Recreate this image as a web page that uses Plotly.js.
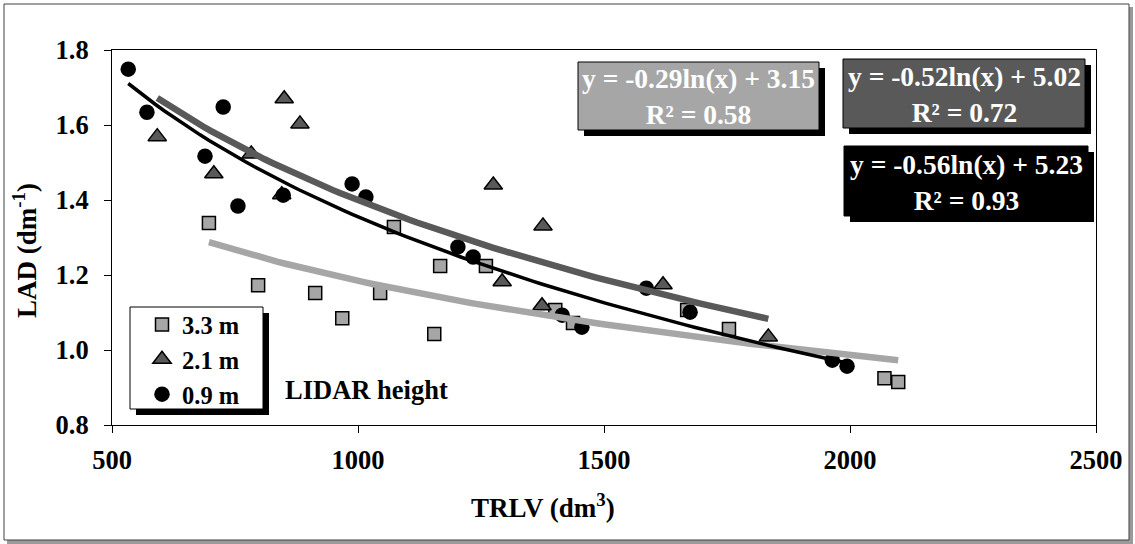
<!DOCTYPE html>
<html>
<head>
<meta charset="utf-8">
<script src="https://cdn.plot.ly/plotly-3.0.1.min.js"></script>
<style>
  html, body { margin: 0; padding: 0; background: #ffffff; }
  #chart { width: 1135px; height: 544px; }
</style>
</head>
<body>
<div id="chart"></div>
<script>
// ---- data ----
const seriesNames = ["3.3 m", "2.1 m", "0.9 m"];

const trlv33 = [697, 797, 913, 968, 1045, 1073, 1155, 1167, 1260, 1401, 1437, 1669, 1754, 2070, 2098];
const lad33  = [1.339, 1.173, 1.152, 1.085, 1.152, 1.328, 1.043, 1.224, 1.224, 1.107, 1.072, 1.107, 1.056, 0.925, 0.915];

const trlv21 = [592, 707, 783, 845, 850, 882, 1275, 1293, 1374, 1376, 1620, 1834];
const lad21  = [1.569, 1.470, 1.523, 1.414, 1.670, 1.603, 1.440, 1.182, 1.118, 1.331, 1.174, 1.035];

const trlv09 = [533, 571, 689, 726, 756, 848, 988, 1016, 1203, 1234, 1415, 1455, 1586, 1675, 1964, 1994];
const lad09  = [1.749, 1.634, 1.517, 1.648, 1.384, 1.413, 1.443, 1.408, 1.275, 1.248, 1.093, 1.061, 1.165, 1.101, 0.973, 0.957];

// logarithmic trend lines  y = a ln(x) + b  (as drawn in the picture)
const trendA = [-0.286, -0.521, -0.565];
const trendB = [3.160, 4.998, 5.258];

const equations = ["y = -0.29ln(x) + 3.15<br>R² = 0.58",
                   "y = -0.52ln(x) + 5.02<br>R² = 0.72",
                   "y = -0.56ln(x) + 5.23<br>R² = 0.93"];

const xTicks = [500, 1000, 1500, 2000, 2500];
const yTicks = [0.8, 1.0, 1.2, 1.4, 1.6, 1.8];

// ---- styling ----
const FONT = "Liberation Serif, Times New Roman, serif";
const colLight = "#a6a6a6", colDark = "#595959", colBlack = "#000000";

// plot area in pixels
const PL = 112, PR = 1096, PT = 50, PB = 425;
const W = 1135, H = 544;
const px = v => (v - PL) / (PR - PL);
const py = v => (PB - v) / (PB - PT);

function trend(xs, a, b) {
  const lo = Math.min(...xs), hi = Math.max(...xs);
  const X = [], Y = [];
  const n = 80;
  for (let i = 0; i <= n; i++) {
    const x = lo + (hi - lo) * i / n;
    X.push(x); Y.push(a * Math.log(x) + b);
  }
  return {X, Y};
}

const tL = trend(trlv33, trendA[0], trendB[0]);
const tD = trend(trlv21, trendA[1], trendB[1]);
const tB = trend(trlv09, trendA[2], trendB[2]);

const traces = [
  {x: trlv33, y: lad33, name: seriesNames[0], type: "scatter", mode: "markers",
   marker: {symbol: "square", size: 13, color: colLight, line: {color: "#000", width: 1.5}}},
  {x: trlv21, y: lad21, name: seriesNames[1], type: "scatter", mode: "markers",
   marker: {symbol: "triangle-up", size: 16, color: colDark, line: {color: "#000", width: 1.5}}},
  {x: trlv09, y: lad09, name: seriesNames[2], type: "scatter", mode: "markers",
   marker: {symbol: "circle", size: 15.5, color: colBlack, line: {color: "#000", width: 0}}},
  {x: tL.X, y: tL.Y, type: "scatter", mode: "lines", showlegend: false, hoverinfo: "skip",
   line: {color: colLight, width: 6.5}},
  {x: tD.X, y: tD.Y, type: "scatter", mode: "lines", showlegend: false, hoverinfo: "skip",
   line: {color: colDark, width: 6.5}},
  {x: tB.X, y: tB.Y, type: "scatter", mode: "lines", showlegend: false, hoverinfo: "skip",
   line: {color: colBlack, width: 3.5}}
];

// equation boxes (pixel boxes)
const boxes = [
  {x0: 578, x1: 819, y0: 62, y1: 130, fill: colLight},
  {x0: 843, x1: 1085, y0: 59, y1: 128, fill: colDark},
  {x0: 844, x1: 1088, y0: 146, y1: 216, fill: colBlack}
];
const SH = 6;

const shapes = [
  // outer chart frame with shadow
  {type: "rect", xref: "paper", yref: "paper", layer: "below",
   x0: px(7), x1: px(1133), y0: py(544), y1: py(7), fillcolor: "#9a9a9a", line: {width: 0}},
  {type: "rect", xref: "paper", yref: "paper", layer: "below",
   x0: px(4), x1: px(1129), y0: py(540), y1: py(4), fillcolor: "#ffffff", line: {color: "#404040", width: 1}},
  // legend box with shadow
  {type: "rect", xref: "paper", yref: "paper", layer: "above",
   x0: px(136), x1: px(269), y0: py(415), y1: py(313), fillcolor: "#000", line: {width: 0}},
  {type: "rect", xref: "paper", yref: "paper", layer: "above",
   x0: px(130), x1: px(263), y0: py(409), y1: py(307), fillcolor: "#fff", line: {color: "#000", width: 1}}
];
const annotations = [];
boxes.forEach((b, i) => {
  shapes.push({type: "rect", xref: "paper", yref: "paper", layer: "above",
    x0: px(b.x0 + SH), x1: px(b.x1 + SH), y0: py(b.y1 + SH), y1: py(b.y0 + SH),
    fillcolor: "#000", line: {width: 0}});
  shapes.push({type: "rect", xref: "paper", yref: "paper", layer: "above",
    x0: px(b.x0), x1: px(b.x1), y0: py(b.y1), y1: py(b.y0),
    fillcolor: b.fill, line: {color: "#000", width: 1}});
  annotations.push({xref: "paper", yref: "paper", x: px((b.x0 + b.x1) / 2), y: py((b.y0 + b.y1) / 2 + 1),
    xanchor: "center", yanchor: "middle", showarrow: false, text: equations[i], align: "center",
    font: {family: FONT, size: 27.5, color: "#ffffff", weight: 700}});
});

annotations.push({xref: "paper", yref: "paper", x: px(283), y: py(390), xanchor: "left", yanchor: "middle",
  showarrow: false, text: "LIDAR height", font: {family: FONT, size: 26.5, color: "#000", weight: 700}});
annotations.push({xref: "paper", yref: "paper", x: px(543), y: py(506), xanchor: "center", yanchor: "middle",
  showarrow: false, text: "TRLV (dm<sup>3</sup>)", font: {family: FONT, size: 27, color: "#000", weight: 700}});
annotations.push({xref: "paper", yref: "paper", x: px(25), y: py(251), xanchor: "center", yanchor: "middle",
  textangle: -90, showarrow: false, text: "LAD (dm<sup>-1</sup>)", font: {family: FONT, size: 27, color: "#000", weight: 700}});

const layout = {
  width: W, height: H,
  margin: {l: PL, r: W - PR, t: PT, b: H - PB, pad: 0},
  paper_bgcolor: "#ffffff", plot_bgcolor: "rgba(0,0,0,0)",
  font: {family: FONT, size: 26, color: "#000"},
  showlegend: true,
  legend: {x: px(142), y: py(302), xanchor: "left", yanchor: "top",
    bgcolor: "rgba(0,0,0,0)", borderwidth: 0,
    font: {family: FONT, size: 24.5, color: "#000", weight: 700},
    traceorder: "normal", itemwidth: 30, tracegroupgap: 0},
  xaxis: {range: [500, 2500], tickvals: xTicks, ticktext: xTicks.map(String),
    showgrid: false, zeroline: false, showline: true, linecolor: "#000", linewidth: 1, mirror: true,
    ticks: "outside", ticklen: 7, tickwidth: 1, tickcolor: "#000", ticklabelstandoff: 4,
    tickfont: {family: FONT, size: 26.5, color: "#000", weight: 700}},
  yaxis: {range: [0.8, 1.8], tickvals: yTicks, ticktext: yTicks.map(v => v.toFixed(1)),
    showgrid: false, zeroline: false, showline: true, linecolor: "#000", linewidth: 1, mirror: true,
    ticks: "outside", ticklen: 7, tickwidth: 1, tickcolor: "#000", ticklabelstandoff: 10,
    tickfont: {family: FONT, size: 26.5, color: "#000", weight: 700}},
  shapes: shapes,
  annotations: annotations
};

Plotly.newPlot("chart", traces, layout, {displayModeBar: false, staticPlot: true});
</script>
</body>
</html>
